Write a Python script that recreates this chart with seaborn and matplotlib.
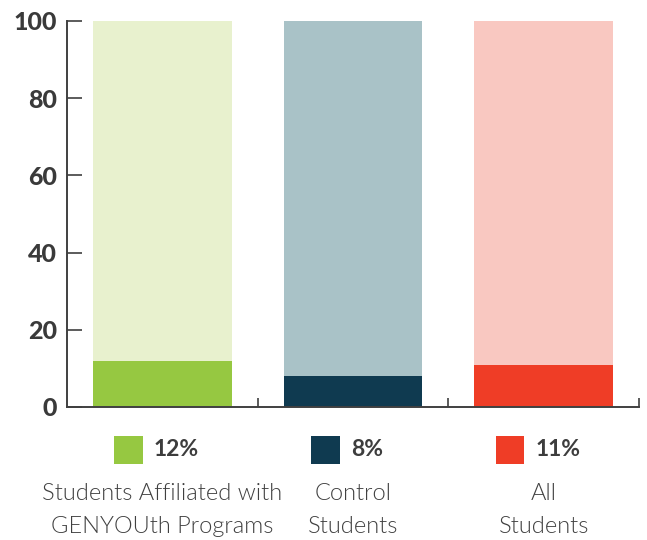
import matplotlib
matplotlib.use("Agg")
import matplotlib.pyplot as plt
import seaborn as sns
import pandas as pd
from matplotlib.offsetbox import DrawingArea, TextArea, HPacker, AnnotationBbox
from matplotlib.patches import Rectangle

categories = ["Students Affiliated with\nGENYOUth Programs", "Control\nStudents", "All\nStudents"]
values = [12, 8, 11]
value_labels = ["12%", "8%", "11%"]
totals = [100, 100, 100]
dark_colors = ["#96C841", "#0F3A50", "#EF3D26"]
light_colors = ["#E8F1CE", "#A9C2C7", "#F9C8C1"]

sns.set_theme(style="white")
plt.rcParams["font.family"] = ["Lato", "DejaVu Sans"]

df = pd.DataFrame({"category": categories, "value": values, "total": totals})

fig = plt.figure(figsize=(6.47, 5.40), dpi=100)
ax = fig.add_axes([67 / 647, 133 / 540, 572 / 647, 386 / 540])

sns.barplot(data=df, x="category", y="total", hue="category",
            palette=light_colors, width=0.727, legend=False, ax=ax,
            saturation=1, linewidth=0)
sns.barplot(data=df, x="category", y="value", hue="category",
            palette=dark_colors, width=0.727, legend=False, ax=ax,
            saturation=1, linewidth=0)

ax.set_xlim(-0.5, 2.5)
ax.set_ylim(0, 100)
ax.set_xlabel("")
ax.set_ylabel("")
ax.set_yticks([0, 20, 40, 60, 80, 100])
ax.set_xticks([0.5, 1.5, 2.5])
ax.set_xticklabels([])
for s in ["top", "right"]:
    ax.spines[s].set_visible(False)
for s in ["left", "bottom"]:
    ax.spines[s].set_color("#404040")
    ax.spines[s].set_linewidth(1.4)
ax.tick_params(axis="y", direction="in", length=11, width=1.2, color="#404040",
               pad=7, labelsize=18, labelcolor="#3a3a3a", left=True)
ax.tick_params(axis="x", direction="in", length=6.5, width=1.2, color="#404040",
               bottom=True)
for lab in ax.get_yticklabels():
    lab.set_fontweight(900)

for i, (lab, vl, col) in enumerate(zip(categories, value_labels, dark_colors)):
    da = DrawingArea(20.5, 20.5, 0, 0)
    da.add_artist(Rectangle((0, 0), 20.5, 20.5, facecolor=col, edgecolor="none"))
    ta = TextArea(vl, textprops=dict(fontsize=16.5, fontweight="bold", color="#3d3d3d"))
    pack = HPacker(children=[da, ta], align="center", pad=0, sep=8)
    ab = AnnotationBbox(pack, (i - 0.03, -0.111), xycoords=ax.get_xaxis_transform(),
                        box_alignment=(0.5, 0.5), frameon=False, annotation_clip=False)
    ax.add_artist(ab)
    lines = lab.split("\n")
    for j, line in enumerate(lines):
        ax.text(i, -0.241 - 0.0855 * j, line, transform=ax.get_xaxis_transform(),
                ha="center", va="baseline", fontsize=17, fontweight=300,
                color="#404040", clip_on=False)

fig.savefig("out.png", dpi=100)
